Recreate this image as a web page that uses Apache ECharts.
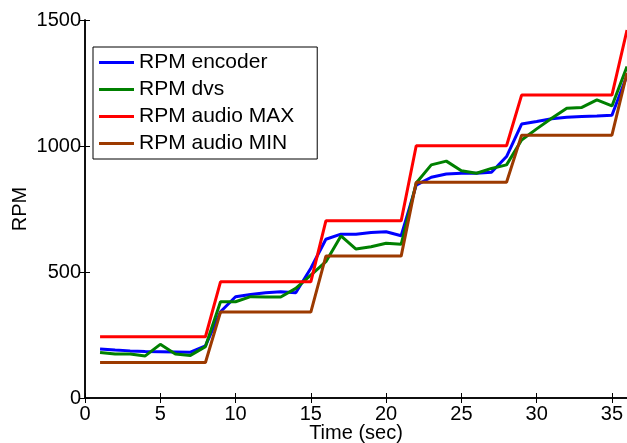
<!DOCTYPE html>
<html>
<head>
<meta charset="utf-8">
<script src="https://cdn.jsdelivr.net/npm/echarts@6/dist/echarts.min.js"></script>
<style>
  html, body { margin: 0; padding: 0; background: #fff; }
  #chart { width: 627px; height: 443px; }
</style>
</head>
<body>
<div id="chart"></div>
<script>
// time in seconds
const timeSec = [1, 2, 3, 4, 5, 6, 7, 8, 9, 10, 11, 12, 13, 14, 15, 16, 17, 18,
  19, 20, 21, 22, 23, 24, 25, 26, 27, 28, 29, 30, 31, 32, 33, 34, 35, 36];

const rpmEncoder = [194, 190, 187, 185, 184, 183, 182, 207, 342, 402, 411, 418, 422, 418, 515, 630, 650, 650,
  657, 660, 644, 845, 876, 889, 892, 892, 896, 958, 1087, 1097, 1108, 1114, 1117, 1119, 1122, 1280];
const rpmDvs = [181, 175, 175, 167, 213, 175, 169, 204, 382, 382, 402, 401, 401, 435, 488, 541, 643, 591,
  600, 614, 610, 853, 925, 940, 902, 892, 911, 925, 1024, 1068, 1110, 1150, 1153, 1183, 1159, 1315];
const rpmAudioMax = [243, 243, 243, 243, 243, 243, 243, 243, 461, 461, 461, 461, 461, 461, 461, 703, 703, 703,
  703, 703, 703, 1001, 1001, 1001, 1001, 1001, 1001, 1001, 1202, 1202, 1202, 1202, 1202, 1202, 1202, 1460];
const rpmAudioMin = [141, 141, 141, 141, 141, 141, 141, 141, 341, 341, 341, 341, 341, 341, 341, 563, 563, 563,
  563, 563, 563, 856, 856, 856, 856, 856, 856, 856, 1043, 1043, 1043, 1043, 1043, 1043, 1043, 1290];

const seriesNames = ['RPM encoder', 'RPM dvs', 'RPM audio MAX', 'RPM audio MIN'];
const seriesColors = ['#0000ff', '#008000', '#ff0000', '#9c3a00'];
const seriesValues = [rpmEncoder, rpmDvs, rpmAudioMax, rpmAudioMin];

const font = 'Liberation Sans, Arial, sans-serif';

const axisLine = { show: true, lineStyle: { color: '#000', width: 1.5 } };
const axisTick = { show: true, inside: true, length: 5, lineStyle: { color: '#000', width: 1 } };

const chart = echarts.init(document.getElementById('chart'));

chart.setOption({
  animation: false,
  backgroundColor: '#fff',
  grid: { left: 85, right: 0, top: 20, bottom: 45, outerBoundsMode: 'none', containLabel: false },
  legend: {
    orient: 'vertical',
    left: 93,
    top: 47,
    icon: 'rect',
    itemWidth: 35,
    itemHeight: 3,
    itemGap: 6,
    padding: [5, 23, 5, 6],
    borderColor: '#000',
    borderWidth: 1,
    backgroundColor: '#fff',
    textStyle: { fontSize: 21, lineHeight: 21, color: '#000', fontFamily: font },
    data: seriesNames
  },
  xAxis: [
    {
      type: 'value', min: 0, max: 36, interval: 5,
      name: 'Time (sec)', nameLocation: 'middle', nameGap: 25, nameMoveOverlap: false,
      nameTextStyle: { fontSize: 20, color: '#000', fontFamily: font },
      axisLine, axisTick,
      axisLabel: { fontSize: 20, color: '#000', fontFamily: font, margin: 6 },
      splitLine: { show: false }
    },
    {
      type: 'value', min: 0, max: 36, interval: 5, position: 'top',
      axisLine, axisTick,
      axisLabel: { show: false },
      splitLine: { show: false }
    }
  ],
  yAxis: [
    {
      type: 'value', min: 0, max: 1500, interval: 500,
      name: 'RPM', nameLocation: 'middle', nameGap: 55, nameMoveOverlap: false,
      nameTextStyle: { fontSize: 20, color: '#000', fontFamily: font },
      axisLine, axisTick,
      axisLabel: { fontSize: 20, color: '#000', fontFamily: font, margin: 4, formatter: v => String(v) },
      splitLine: { show: false }
    },
    {
      type: 'value', min: 0, max: 1500, interval: 500, position: 'right',
      axisLine, axisTick,
      axisLabel: { show: false },
      splitLine: { show: false }
    }
  ],
  series: seriesNames.map((name, i) => ({
    name,
    type: 'line',
    xAxisIndex: 0,
    yAxisIndex: 0,
    showSymbol: false,
    color: seriesColors[i],
    lineStyle: { width: 3, color: seriesColors[i] },
    data: timeSec.map((t, k) => [t, seriesValues[i][k]])
  }))
});
</script>
</body>
</html>
